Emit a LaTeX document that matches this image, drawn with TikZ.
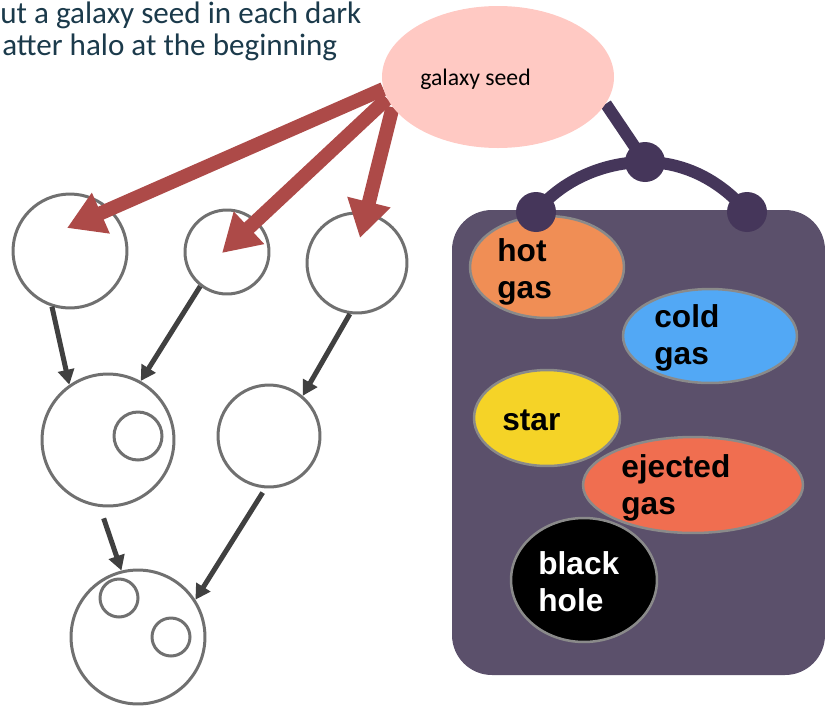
\documentclass[tikz,border=0pt]{standalone}
\usepackage{fontspec}
\setmainfont{Carlito}
\newfontfamily\partfont{Liberation Sans}
\usetikzlibrary{shapes.geometric,arrows.meta}

\pgfdeclarelayer{front}
\pgfsetlayers{main,front}

\definecolor{titleteal}{HTML}{1B3A4B}
\definecolor{seedpink}{HTML}{FFC9C3}
\definecolor{seedred}{HTML}{AD4A48}
\definecolor{halogray}{HTML}{707070}
\definecolor{mergegray}{HTML}{404040}
\definecolor{boxpurple}{HTML}{5B506B}
\definecolor{hangpurple}{HTML}{45365A}
\definecolor{rimgray}{HTML}{8A8A8A}
\definecolor{hotgas}{HTML}{F08E55}
\definecolor{coldgas}{HTML}{52A8F5}
\definecolor{stargold}{HTML}{F5D327}
\definecolor{ejectgas}{HTML}{F06E50}

\tikzset{
  halo/.style={circle, draw=halogray, line width=0.06cm, inner sep=0pt, minimum size=#1*0.04cm},
  seedarrow/.style={draw=seedred, line width=0.28cm, -{Triangle[length=0.74cm,width=0.84cm]}},
  merge/.style={draw=mergegray, line width=0.1cm, -{Triangle[length=0.3cm,width=0.32cm]}},
  part/.style n args={3}{ellipse, fill=#1, draw=rimgray, line width=0.05cm, inner sep=0pt,
    minimum width=#2*0.04cm, minimum height=#3*0.04cm},
  parttext/.style={font=\partfont\bfseries\fontsize{18}{21}\selectfont, align=left, anchor=west, inner sep=0pt},
  hook/.style={circle, fill=hangpurple, inner sep=0pt, minimum size=0.8cm},
  hanger/.style={draw=hangpurple, line width=0.24cm},
}

\begin{document}
\begin{tikzpicture}[x=0.02cm, y=-0.02cm]
\useasboundingbox (0,0) rectangle (825,707);

% caption
\node[font=\fontsize{17.7}{21}\selectfont, text=titleteal, anchor=base west, inner sep=0pt] (intro-1) at (0,23) {ut a galaxy seed in each dark};
\node[font=\fontsize{17.7}{21}\selectfont, text=titleteal, anchor=base west, inner sep=0pt] (intro-2) at (2,55) {atter halo at the beginning};

% seed sits above its arrows
\begin{pgfonlayer}{front}
\node[ellipse, fill=seedpink, minimum width=232*0.02cm, minimum height=142*0.02cm] (seed) at (498,77) {};
\node[font=\fontsize{13.5}{16}\selectfont, anchor=west, inner sep=0pt] (seed-text) at (420,79) {galaxy seed};
\end{pgfonlayer}

% merger tree of halos
\node[halo=57] (top1) at (70,251) {};
\node[halo=42] (top2) at (227,252) {};
\node[halo=50] (top3) at (357,263) {};
\node[halo=66] (mid1) at (108,440) {};
\node[halo=24] (mid1-sub) at (138,436) {};
\node[halo=51] (mid2) at (269,436) {};
\node[halo=67] (final) at (138,637) {};
\node[halo=19] (final-sub1) at (119,598) {};
\node[halo=19] (final-sub2) at (171,637) {};

\draw[merge] (top1.-108) -- (mid1.125);
\draw[merge] (top2.-128) -- (mid1.61);
\draw[merge] (top3.-98) -- (mid2.50);
\draw[merge, shorten <=0.24cm] (mid1.-97) -- (final.104);
\draw[merge, shorten <=0.1cm] (mid2.-94) -- (final.33);

% seeding
\coordinate (aim1) at (67,228);
\coordinate (aim2) at (222,253);
\coordinate (aim3) at (360,238);
\draw[seedarrow] (seed.186) -- (aim1);
\draw[seedarrow] (seed.191) -- (aim2);
\draw[seedarrow] (seed.196) -- (aim3);

% galaxy components
\fill[boxpurple, rounded corners=0.8cm] (452,210) rectangle (825,675);

\node[part={hotgas}{77}{51}] (hot) at (547,267) {};
\node[parttext] (hot-text) at (497,272) {hot\\gas};
\node[part={coldgas}{87}{47}] (cold) at (710,336) {};
\node[parttext] (cold-text) at (654,338) {cold\\gas};
\node[part={stargold}{73}{48}] (star) at (547,418) {};
\node[parttext] (star-text) at (502,420) {star};
\node[part={black}{73}{62}] (bh) at (584,580) {};
\node[parttext, text=white] (bh-text) at (538,582) {black\\hole};
\node[part={ejectgas}{110}{48}] (ejected) at (693,485) {};
\node[parttext] (ejected-text) at (621,488) {ejected\\gas};

% hanger
\node[hook] (hook-l) at (536,212) {};
\node[hook] (hook-m) at (645,162) {};
\node[hook] (hook-r) at (747,212) {};
\draw[hanger] (seed.-14) -- (hook-m.center);
\draw[hanger] (hook-l.center) .. controls (562,180) and (604,162) .. (hook-m.center)
  .. controls (686,162) and (722,182) .. (hook-r.center);

\end{tikzpicture}
\end{document}
